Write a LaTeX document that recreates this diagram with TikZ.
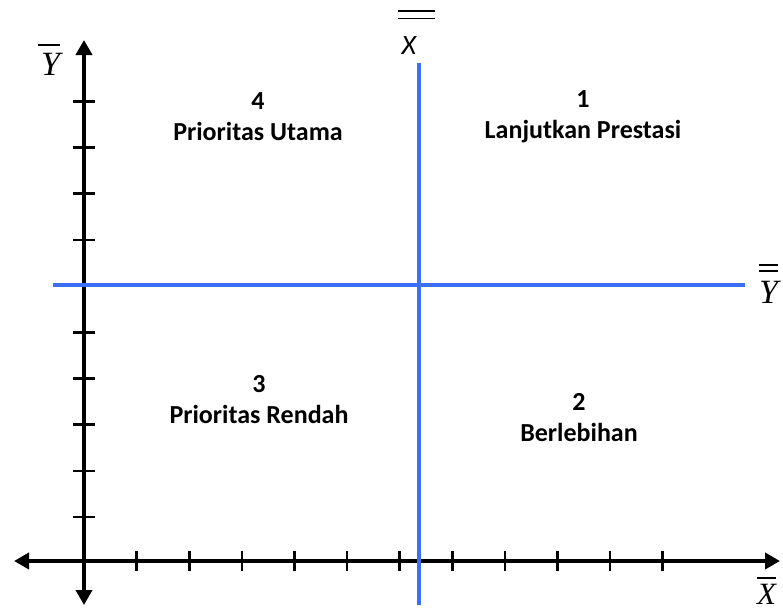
\documentclass[tikz,border=0pt]{standalone}
\usepackage{fontspec}
\setmainfont{Carlito}
\newfontfamily\timesfont{Liberation Serif}
\usetikzlibrary{arrows.meta}
\definecolor{quadblue}{RGB}{59,112,246}

\begin{document}
\begin{tikzpicture}[x=1pt,y=-1pt,
  axis/.style={{Triangle[length=15pt,width=16pt]}-{Triangle[length=15pt,width=16pt]},line width=4.5pt},
  tick/.style={line width=2.6pt},
  split/.style={quadblue,line width=4.5pt},
  quad/.style={font=\fontsize{26}{31}\selectfont\bfseries,align=center},
  lab/.style={font=\fontsize{34}{40}\selectfont\timesfont\itshape,inner sep=0pt,anchor=base}]
  \useasboundingbox (0,0) rectangle (783,610);
  % axes
  \coordinate (xl) at (14,561);\coordinate (xr) at (780,561);
  \coordinate (yt) at (84,40);\coordinate (yb) at (84,605);
  \draw[axis](xl)--(xr);
  \draw[axis](yb)--(yt);
  \foreach \i in {1,...,11} \draw[tick](84+52.6*\i,551)--++(0,20);
  \foreach \i in {0,...,9} \draw[tick](73,517-46.2*\i)--++(22,0);
  % quadrant lines
  \coordinate (vt) at (419,63);\coordinate (vb) at (419,605);
  \coordinate (hl) at (53,285);\coordinate (hr) at (745,285);
  \draw[split](vt)--(vb);
  \draw[split](hl)--(hr);
  % quadrants
  \node[quad](q4) at (258,117){4\\Prioritas Utama};
  \node[quad](q1) at (583,117){1\\Lanjutkan Prestasi};
  \node[quad](q3) at (259,400){3\\Prioritas Rendah};
  \node[quad](q2) at (579,418){2\\Berlebihan};
  % labels
  \node[lab](ybar) at (49,75){\vbox{\hrule height 1.4pt\kern 7pt\hbox{\hspace{3pt}Y}}};
  \node[lab,anchor=base west](ybb) at (759,303)
    {\vbox{\hrule height 1.4pt\kern 4.5pt\hrule height 1.4pt\kern 9pt\hbox{Y}}};
  \node[lab,anchor=base west,font=\fontsize{31}{36}\selectfont\timesfont\itshape](xbar) at (757,604)
    {\vbox{\hrule height 1.4pt\kern 5pt\hbox{X}}};
  \node[inner sep=0pt,anchor=base,font=\fontsize{28}{34}\selectfont\itshape](xbb) at (416,55)
    {\vbox{\hrule height 1.3pt\kern 6pt\hrule height 1.3pt\kern 18pt\hbox to 37pt{\hspace{4pt}X\hfil}}};
\end{tikzpicture}
\end{document}
